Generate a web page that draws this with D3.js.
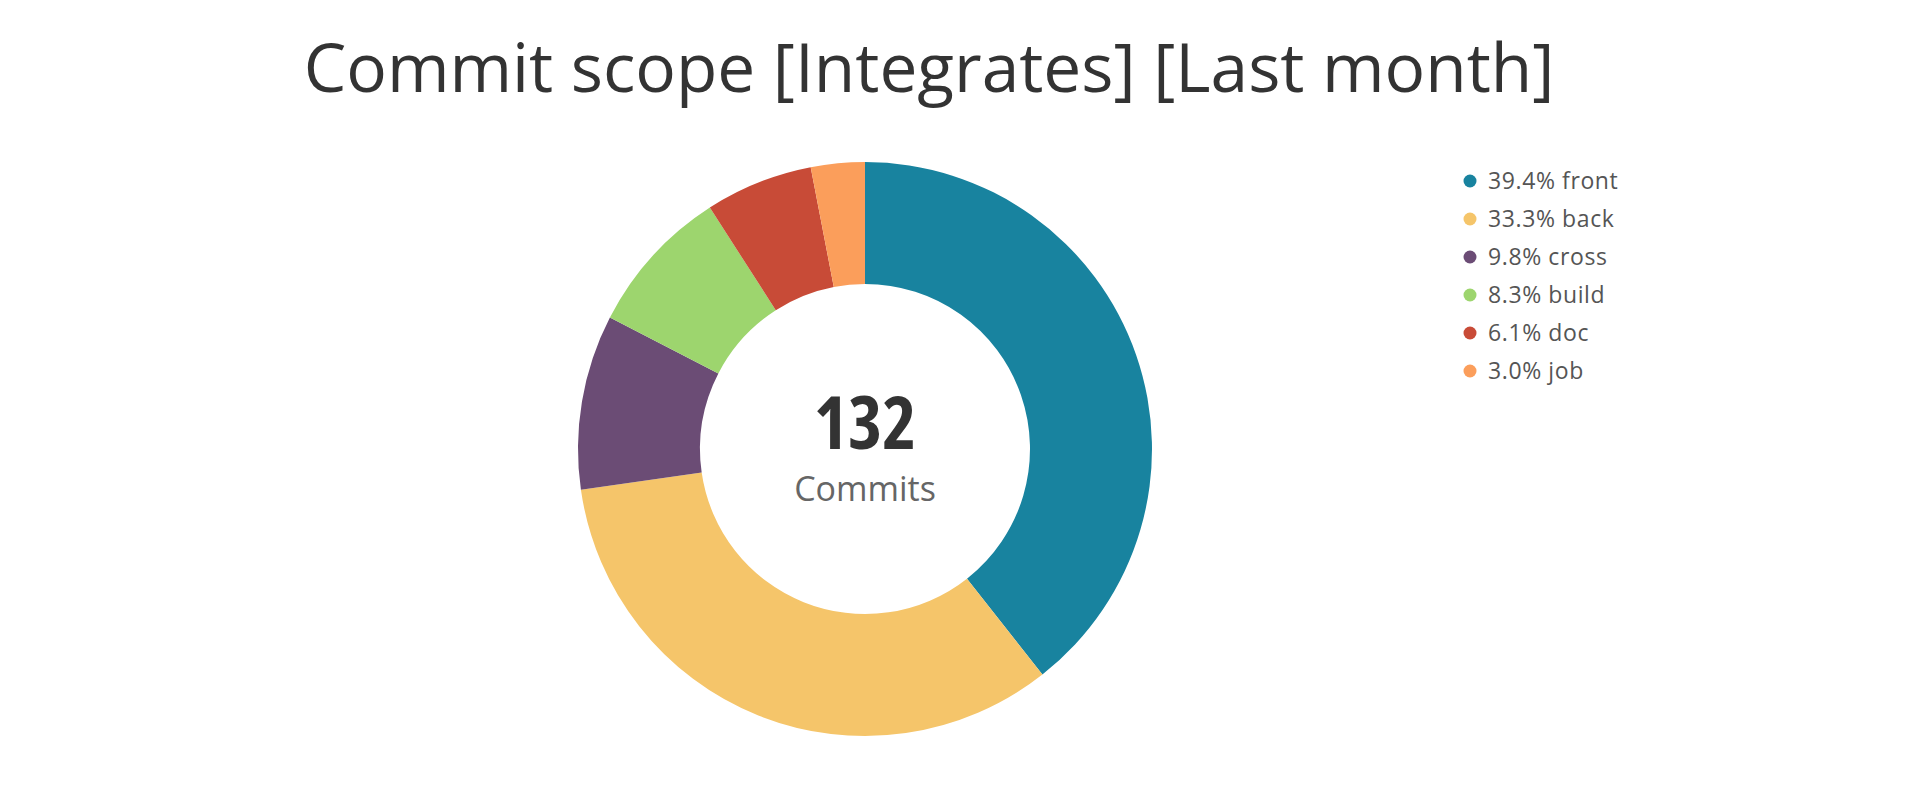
<!DOCTYPE html>
<html>
<head>
<meta charset="utf-8">
<script src="https://cdn.jsdelivr.net/npm/d3@7"></script>
<style>
  body { margin: 0; background: #fff; }
  svg { display: block; }
</style>
</head>
<body>
<svg width="1920" height="800"></svg>
<script>
var scopes = ["front", "back", "cross", "build", "doc", "job"];
var commits = [52, 44, 13, 11, 8, 4];
var colors = ["#18839f", "#f5c56a", "#6b4c75", "#9dd56e", "#c84b37", "#fb9e5b"];
var title = "Commit scope [Integrates] [Last month]";
var centerLabel = "Commits";

var svg = d3.select("svg"),
    width = +svg.attr("width");

var total = d3.sum(commits);
var format = d3.format(".1%");

var data = scopes.map(function(s, i) {
  return { scope: s, value: commits[i] };
});

var color = d3.scaleOrdinal()
    .domain(scopes)
    .range(colors);

var cx = 865, cy = 449,
    outer = 287, inner = 165;

svg.append("text")
    .attr("x", 929)
    .attr("y", 92)
    .attr("text-anchor", "middle")
    .attr("font-family", "Open Sans")
    .attr("font-size", "67.6px")
    .attr("fill", "#333")
    .text(title);

var pie = d3.pie()
    .sort(null)
    .value(function(d) { return d.value; });

var arc = d3.arc()
    .innerRadius(inner)
    .outerRadius(outer);

var g = svg.append("g")
    .attr("transform", "translate(" + cx + "," + cy + ")");

g.selectAll("path")
  .data(pie(data))
  .enter().append("path")
    .attr("d", arc)
    .attr("fill", function(d) { return color(d.data.scope); });

g.append("text")
    .attr("y", 0)
    .attr("text-anchor", "middle")
    .attr("font-family", "Open Sans")
    .attr("font-weight", "bold")
    .style("font-stretch", "75%")
    .attr("font-size", "73px")
    .attr("fill", "#333")
    .text(total);

g.append("text")
    .attr("y", 52)
    .attr("text-anchor", "middle")
    .attr("font-family", "Open Sans")
    .attr("font-size", "34px")
    .attr("fill", "#666")
    .text(centerLabel);

// legend
var legend = svg.selectAll(".legend")
  .data(data)
  .enter().append("g")
    .attr("class", "legend")
    .attr("transform", function(d, i) { return "translate(1470," + (181 + i * 38) + ")"; });

legend.append("circle")
    .attr("r", 6.5)
    .attr("fill", function(d) { return color(d.scope); });

legend.append("text")
    .attr("x", 18)
    .attr("y", 8)
    .attr("font-family", "Open Sans")
    .attr("font-size", "23px")
    .attr("letter-spacing", "0.6px")
    .attr("fill", "#555")
    .text(function(d) { return format(d.value / total) + " " + d.scope; });
</script>
</body>
</html>
